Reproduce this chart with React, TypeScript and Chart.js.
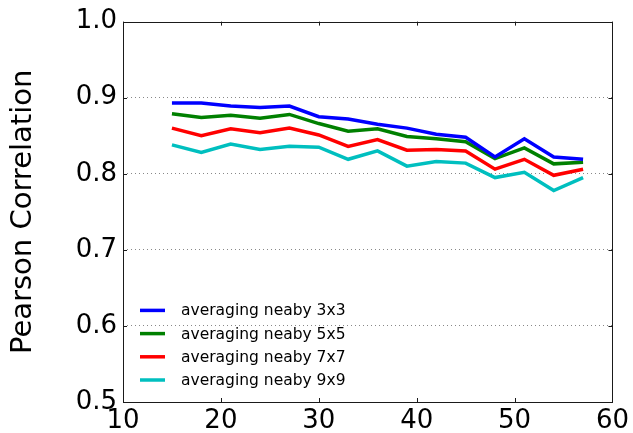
import React, { useEffect, useRef } from "react";
import { Chart, registerables } from "chart.js";

Chart.register(...registerables);

const xValues = [15, 18, 21, 24, 27, 30, 33, 36, 39, 42, 45, 48, 51, 54, 57];
const series3x3 = [0.893, 0.893, 0.889, 0.887, 0.889, 0.875, 0.872, 0.865, 0.86, 0.852, 0.848, 0.822, 0.846, 0.822, 0.819];
const series5x5 = [0.879, 0.874, 0.877, 0.873, 0.878, 0.866, 0.856, 0.859, 0.849, 0.846, 0.842, 0.82, 0.834, 0.813, 0.815];
const series7x7 = [0.86, 0.85, 0.859, 0.854, 0.86, 0.851, 0.836, 0.845, 0.831, 0.832, 0.83, 0.806, 0.819, 0.798, 0.806];
const series9x9 = [0.838, 0.828, 0.839, 0.832, 0.836, 0.835, 0.819, 0.83, 0.81, 0.816, 0.814, 0.795, 0.802, 0.778, 0.795];

const seriesLabels = ["averaging neaby 3x3", "averaging neaby 5x5", "averaging neaby 7x7", "averaging neaby 9x9"];
const seriesColors = ["#0000ff", "#008000", "#ff0000", "#00bfbf"];
const yTitle = "Pearson Correlation";

const xMin = 10;
const xMax = 60;
const xStep = 10;
const yMin = 0.5;
const yMax = 1.0;
const yStep = 0.1;

const FONT = "'DejaVu Sans', sans-serif";

const framePlugin = {
  id: "frameTicksLegend",
  afterDraw(chart: any) {
    const { ctx, chartArea, scales } = chart;
    const { left, right, top, bottom } = chartArea;
    ctx.save();
    ctx.strokeStyle = "#1a1a1a";
    ctx.lineWidth = 1;
    ctx.strokeRect(Math.round(left) + 0.5, Math.round(top) + 0.5, Math.round(right - left), Math.round(bottom - top));
    const tl = 4;
    ctx.beginPath();
    scales.x.ticks.forEach((t: any) => {
      const px = Math.round(scales.x.getPixelForValue(t.value)) + 0.5;
      ctx.moveTo(px, bottom);
      ctx.lineTo(px, bottom - tl);
      ctx.moveTo(px, top);
      ctx.lineTo(px, top + tl);
    });
    scales.y.ticks.forEach((t: any) => {
      const py = Math.round(scales.y.getPixelForValue(t.value)) + 0.5;
      ctx.moveTo(left, py);
      ctx.lineTo(left + tl, py);
      ctx.moveTo(right, py);
      ctx.lineTo(right - tl, py);
    });
    ctx.stroke();
    const ds = chart.data.datasets;
    const rowH = 23.2;
    const n = ds.length;
    ctx.font = `15.5px ${FONT}`;
    ctx.textBaseline = "middle";
    ctx.textAlign = "left";
    ds.forEach((d: any, i: number) => {
      const y = bottom - 22 - (n - 1 - i) * rowH;
      ctx.strokeStyle = d.borderColor;
      ctx.lineWidth = 3.5;
      ctx.beginPath();
      ctx.moveTo(left + 17, y);
      ctx.lineTo(left + 42, y);
      ctx.stroke();
      ctx.fillStyle = "#000";
      ctx.fillText(d.label, left + 58, y + 1);
    });
    ctx.restore();
  },
};

export default function App() {
  const ref = useRef<HTMLCanvasElement | null>(null);
  useEffect(() => {
    if (!ref.current) return;
    const all = [series3x3, series5x5, series7x7, series9x9];
    const chart = new Chart(ref.current, {
      type: "line",
      data: {
        datasets: all.map((s, i) => ({
          label: seriesLabels[i],
          data: xValues.map((x, j) => ({ x, y: s[j] })),
          borderColor: seriesColors[i],
          backgroundColor: seriesColors[i],
          borderWidth: 3.5,
          pointRadius: 0,
          tension: 0,
          fill: false,
        })),
      },
      options: {
        responsive: false,
        animation: false,
        layout: { padding: { left: 0, top: 19, right: 16, bottom: 0 } },
        plugins: { legend: { display: false }, tooltip: { enabled: false } },
        scales: {
          x: {
            type: "linear",
            min: xMin,
            max: xMax,
            ticks: {
              stepSize: xStep,
              color: "#000",
              font: { family: FONT, size: 26 },
              padding: 4,
              maxRotation: 0,
              callback: (v: any) => String(v),
            },
            grid: { display: false, drawTicks: false },
            border: { display: false },
            afterFit: (s: any) => {
              s.height = 31;
            },
          },
          y: {
            type: "linear",
            min: yMin,
            max: yMax,
            ticks: {
              stepSize: yStep,
              color: "#000",
              font: { family: FONT, size: 26 },
              padding: 6,
              callback: (v: any) => Number(v).toFixed(1),
            },
            grid: {
              drawTicks: false,
              color: (c: any) => {
                const v = c.tick ? c.tick.value : 0;
                return Math.abs(v - yMin) < 1e-6 || Math.abs(v - yMax) < 1e-6 ? "rgba(0,0,0,0)" : "#888";
              },
              lineWidth: 1,
            },
            border: { display: false, dash: [1, 3] },
            title: {
              display: true,
              text: yTitle,
              color: "#000",
              font: { family: FONT, size: 29 },
              padding: { top: 6, bottom: 0 },
            },
            afterFit: (s: any) => {
              s.width = 123;
            },
          },
        },
      },
      plugins: [framePlugin],
    } as any);
    return () => chart.destroy();
  }, []);
  return (
    <div style={{ position: "fixed", left: 0, top: 0, width: 633, height: 433, background: "#fff" }}>
      <canvas ref={ref} width={633} height={433} style={{ display: "block" }} />
    </div>
  );
}
